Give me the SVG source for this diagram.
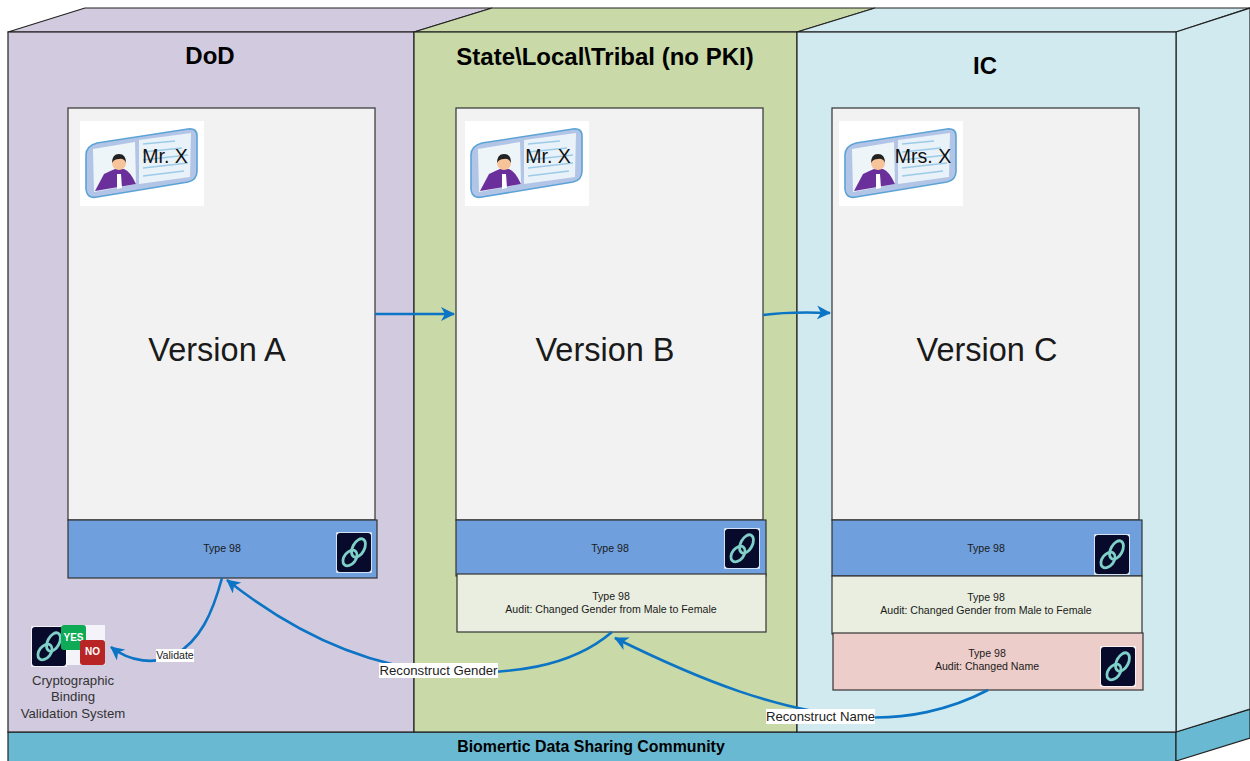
<svg xmlns="http://www.w3.org/2000/svg" width="1250" height="761" viewBox="0 0 1250 761">
<style>
text{font-family:"Liberation Sans",Arial,sans-serif;fill:#1a1a1a;text-anchor:middle}
.edge{stroke:#222;stroke-width:1.2;stroke-linejoin:round}
.title{font-size:24px;font-weight:700;fill:#000}
.ver{font-size:32.5px}
.sm{font-size:10.6px}
.lbl{font-size:13.2px;fill:#222}
.cap{font-size:13.2px;fill:#333}
.box{stroke:#333;stroke-width:1.2}
.doc{fill:#f2f2f2}.blue{fill:#6f9fdc}.aud{fill:#e9eee0}.red{fill:#edcdc9}
.conn{fill:none;stroke:#0b74c4;stroke-width:2.6}
.lb{fill:#fff}
.card{font-size:19.5px;fill:#111}
.badge{font-size:10px;font-weight:700;fill:#fff}
</style>
<defs>
<marker id="arr" viewBox="0 0 14 14" refX="13" refY="7" markerWidth="14" markerHeight="14" markerUnits="userSpaceOnUse" orient="auto">
<path d="M0,0 L14,7 L0,14 L4,7 Z" fill="#0b74c4"/>
</marker>
<g id="idcard">
<rect x="0" y="0" width="124" height="85" fill="#fff"/>
<path d="M17,22 L108,8 Q117,7 117,15 L117,50 Q117,59 108,61 L17,76 Q7,78 6,68 L6,34 Q6,25 17,22 Z" fill="#b3c5e6" stroke="#5ba3d6" stroke-width="1.6"/>
<path d="M13,28 L55,21 L56,63 L14,71 Z" fill="#eef5f8"/>
<path d="M59,19 L111,12 L110,56 L59,63 Z" fill="#e9f1f9"/>
<g fill="none" stroke="#9ccbe8" stroke-width="1.3"><path d="M63,23L95,20M63,31L102,27M63,39L108,34M63,47L108,42M63,55L104,50"/></g>
<path d="M15,70 L24,53 Q30,50 35,48 L44,48 Q50,50 56,63 Z" fill="#6b2f9b"/>
<path d="M37,53 L41,53 L42,67 L37,68 Z" fill="#fff"/>
<circle cx="39" cy="42" r="7" fill="#f7c49a"/>
<path d="M32,42 Q32,33 39,33 Q46,33 46,42 Q44,37 39,38 Q34,38 32,42 Z" fill="#222"/>
</g>
<g id="chain">
<rect x="-0.700" y="-0.700" width="35.400" height="40.400" fill="#fff"/>
<rect x="0" y="0" width="34" height="39" rx="3" fill="#070a2b"/>
<g fill="none" stroke="#7fd0c8" stroke-width="2.800">
<ellipse cx="21.500" cy="15" rx="5.800" ry="10" transform="rotate(28 21.500 15)"/>
<ellipse cx="13" cy="25" rx="5.800" ry="8.800" transform="rotate(38 13 25)"/>
</g>
</g>
</defs>

<g id="community">
<rect x="8" y="732" width="1168" height="32" fill="#69b9d2" stroke="#222" stroke-width="1.2"/>
<path d="M1176,732 L1250,709 L1250,738 L1176,761 Z" fill="#69b9d2" stroke="#222" stroke-width="1.2"/>
<text x="591" y="752" style="font-size:15.900px;font-weight:700;fill:#000">Biomertic Data Sharing Community</text>
</g>
<g id="zone-dod">
<path class="edge" d="M8,32 L85,8 L492,8 L414,32 Z" style="fill:#d2cadf"/>
<rect x="8" y="32" width="406" height="700" fill="#d2cadf" stroke="#222" stroke-width="1.2"/>
<text class="title" x="210" y="64">DoD</text>
</g>
<g id="zone-state">
<path class="edge" d="M414,32 L492,8 L875,8 L797,32 Z" style="fill:#c9d9a7"/>
<rect x="414" y="32" width="383" height="700" fill="#c9d9a7" stroke="#222" stroke-width="1.2"/>
<text class="title" x="605" y="65">State\Local\Tribal (no PKI)</text>
</g>
<g id="zone-ic">
<path class="edge" d="M797,32 L875,8 L1250,8 L1176,32 Z" style="fill:#d1eaef"/>
<path d="M1176,32 L1250,8 L1250,709 L1176,732 Z" fill="#d1eaef" stroke="#222" stroke-width="1.2"/>
<rect x="797" y="32" width="379" height="700" fill="#d1eaef" stroke="#222" stroke-width="1.2"/>
<text class="title" x="985" y="74">IC</text>
</g>

<g id="version-a">
<rect class="box doc" x="68" y="108" width="307" height="412"/>
<use href="#idcard" x="80" y="121"/>
<text class="card" x="165" y="163">Mr. X</text>
<text class="ver" x="217" y="361">Version A</text>
<rect class="box blue" x="68" y="520" width="309" height="58"/>
<text class="sm" x="222" y="552">Type 98</text>
<use href="#chain" x="337" y="533"/>
</g>
<g id="version-b">
<rect class="box doc" x="456" y="108" width="307" height="412"/>
<use href="#idcard" x="465" y="121"/>
<text class="card" x="548" y="163">Mr. X</text>
<text class="ver" x="605" y="361">Version B</text>
<rect class="box blue" x="456" y="520" width="310" height="56"/>
<text class="sm" x="610" y="552">Type 98</text>
<use href="#chain" x="725" y="529"/>
<rect class="box aud" x="457" y="574" width="309" height="58"/>
<text class="sm" x="611" y="600">Type 98</text>
<text class="sm" x="611" y="613">Audit: Changed Gender from Male to Female</text>
</g>
<g id="version-c">
<rect class="box doc" x="832" y="108" width="307" height="412"/>
<use href="#idcard" x="839" y="121"/>
<text class="card" x="923" y="163">Mrs. X</text>
<text class="ver" x="987" y="361">Version C</text>
<rect class="box blue" x="832" y="520" width="310" height="56"/>
<text class="sm" x="986" y="552">Type 98</text>
<use href="#chain" x="1095" y="535"/>
<rect class="box aud" x="832" y="576" width="310" height="58"/>
<text class="sm" x="986" y="601">Type 98</text>
<text class="sm" x="986" y="614">Audit: Changed Gender from Male to Female</text>
<rect class="box red" x="833" y="633" width="310" height="57"/>
<text class="sm" x="987" y="657">Type 98</text>
<text class="sm" x="987" y="670">Audit: Changed Name</text>
<use href="#chain" x="1101" y="647"/>
</g>
<g id="validation-system">
<rect x="61" y="625" width="44" height="40" fill="#f5f3fa"/>
<use href="#chain" x="32" y="627"/>
<rect x="61" y="625" width="25" height="25" rx="3" fill="#0faa55"/>
<text class="badge" x="73.500" y="641">YES</text>
<rect x="80" y="640" width="25" height="25" rx="3" fill="#b92525"/>
<text class="badge" x="92.500" y="655">NO</text>
<text class="cap" x="73" y="685">Cryptographic</text>
<text class="cap" x="73" y="701">Binding</text>
<text class="cap" x="73" y="718">Validation System</text>
</g>

<g id="connectors">
<path class="conn" marker-end="url(#arr)" d="M375,314 L454,314"/>
<path class="conn" marker-end="url(#arr)" d="M763,315 C785,312 805,312 830,313"/>
<path class="conn" marker-end="url(#arr)" d="M222,578 C212,615 200,640 175,655 C155,665 130,662 111,647"/>
<path class="conn" marker-end="url(#arr)" d="M612,632 C570,668 510,675 440,672 C360,665 290,630 227,580"/>
<path class="conn" marker-end="url(#arr)" d="M988,690 C950,710 905,720 860,717 C780,712 700,680 615,638"/>
<rect class="lb" x="156" y="649" width="38" height="13"/>
<text x="175" y="659" style="font-size:10.600px;fill:#222">Validate</text>
<rect class="lb" x="379" y="663" width="119" height="15"/>
<text class="lbl" x="438.500" y="675">Reconstruct Gender</text>
<rect class="lb" x="766" y="709" width="109" height="15"/>
<text class="lbl" x="820.500" y="721">Reconstruct Name</text>
</g>
</svg>
